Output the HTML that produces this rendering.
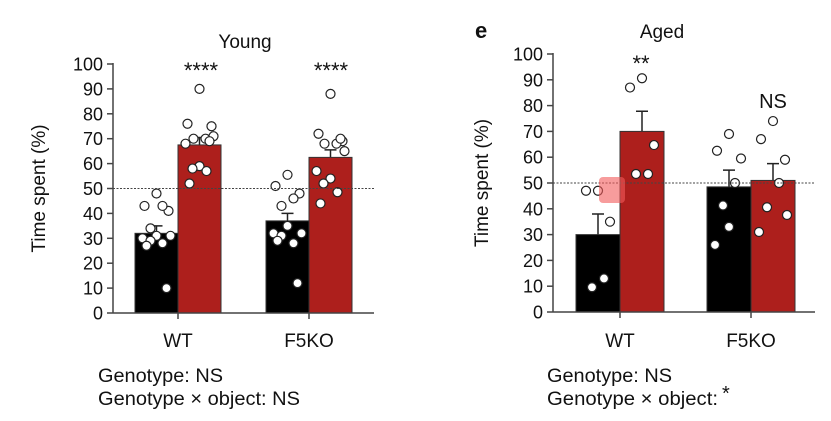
<!DOCTYPE html>
<html><head><meta charset="utf-8"><style>
html,body{margin:0;padding:0;background:#fff;}
svg text{font-family:"Liberation Sans",sans-serif;fill:#111;}
</style></head><body>
<svg id="chart" width="831" height="416" viewBox="0 0 831 416" xmlns="http://www.w3.org/2000/svg">
<text x="475" y="38" font-size="22" font-weight="bold">e</text>
<text x="98" y="382" font-size="19" textLength="125" lengthAdjust="spacingAndGlyphs">Genotype: NS</text>
<text x="98" y="405" font-size="19" textLength="202" lengthAdjust="spacingAndGlyphs">Genotype × object: NS</text>
<text x="547" y="382" font-size="19" textLength="125" lengthAdjust="spacingAndGlyphs">Genotype: NS</text>
<text x="547" y="405" font-size="19" textLength="171" lengthAdjust="spacingAndGlyphs">Genotype × object:</text>
<text x="722" y="400" font-size="20">*</text>
</svg>
<script>
const categories = ["WT", "F5KO"];
const youngMeans = [[32, 67.5], [37, 62.5]];
const youngErr = [[35, 70.5], [40, 65.5]];
const youngPts = [
  [[48,43,41,43,34,31,30,31,29,28,27,10],[90,76,75,70,70,71,68,59,58,57,52,69]],
  [[55.5,51,48,46,43,35,32,32,31,28,29,12],[88,72,69,68,68,65,57,54,52,48.5,44,70]]
];
const youngSig = ["****", "****"];
const agedMeans = [[30, 70], [48.5, 51]];
const agedErr = [[38, 77.8], [55, 57.5]];
const agedPts = [
  [[47,47,35,13,9.6],[90.6,87,64.7,53.5,53.5]],
  [[69,62.5,59.5,50,41.3,33,26],[74,67,59,50,40.6,37.6,31]]
];
const agedSig = ["**", "NS"];
const yTicks = [0,10,20,30,40,50,60,70,80,90,100];
const jitter = [[0,-12,12,6,-6,0,-14,14,-6,6,-10,10],[0,-12,12,6,-6,14,-14,0,-7,7,-10,10]];

const svg = document.getElementById('chart');
const NS = 'http://www.w3.org/2000/svg';
function mk(tag, attrs, parent){ const e=document.createElementNS(NS,tag); for(const k in attrs) e.setAttribute(k,attrs[k]); (parent||svg).appendChild(e); return e; }

function panel(cfg){
  const g = mk('g',{});
  
  
  const y = v => cfg.y0 - v*(cfg.y0-cfg.y100)/100;
  const t = mk('text',{x:cfg.titleX,y:cfg.y100-16,'font-size':19,'text-anchor':'middle'},g);
  t.textContent = cfg.title;
  
  
  const yt = mk('text',{x:0,y:0,'font-size':19,'text-anchor':'middle',transform:`translate(${cfg.yTitleX},${y(50)}) rotate(-90)`},g);
  yt.textContent = 'Time spent (%)';
  
  
  categories.forEach((c,ci)=>{
    const cx = cfg.catX[ci];
    [0,1].forEach(si=>{
      const x0 = si===0 ? cx-cfg.bw : cx;
      const m = cfg.means[ci][si];
      const col = si===0 ? '#000' : '#ad1f1c';
      const ex = x0+cfg.bw/2;
      const eb = mk('path',{d:`M${ex},${y(m)}V${y(cfg.err[ci][si])}M${ex-6},${y(cfg.err[ci][si])}H${ex+6}`,stroke:'#222','stroke-width':1.5,fill:'none'},g);
      
      
      const b = mk('rect',{x:x0,y:y(m),width:cfg.bw,height:y(0)-y(m),fill:col,stroke:'#333','stroke-width':1},g);
      
      
      cfg.pts[ci][si].forEach((v,pi)=>{
        const p = mk('circle',{cx:ex+jitter[si][pi%12]*cfg.jscale,cy:y(v),r:4.5,fill:'#fff',stroke:'#222','stroke-width':1.2},g);
        
        
      });
    });
    const s = mk('text',{x:cfg.sigX[ci],y:cfg.sigY[ci],'font-size':cfg.sig[ci]==='NS'?20:22,'text-anchor':'middle'},g);
    s.textContent = cfg.sig[ci];
    
    
    const xl = mk('text',{x:cx,y:347,'font-size':19,'text-anchor':'middle'},g);
    xl.textContent = c;
    
    
    const xt = mk('line',{x1:cx,x2:cx,y1:y(0),y2:y(0)+6,stroke:'#444','stroke-width':1.5},g);
    
    
  });
  const dl = mk('line',{x1:cfg.ax,x2:cfg.axEnd,y1:y(50),y2:y(50),stroke:'#444','stroke-width':1,'stroke-dasharray':'2,1.5'},g);
  
  
  const ya = mk('line',{x1:cfg.ax,x2:cfg.ax,y1:y(100)-1,y2:y(0),stroke:'#444','stroke-width':1.5},g);
  
  
  const xa = mk('line',{x1:cfg.ax,x2:cfg.axEnd,y1:y(0),y2:y(0),stroke:'#444','stroke-width':1.5},g);
  
  
  yTicks.forEach(v=>{
    const tk = mk('line',{x1:cfg.ax-6,x2:cfg.ax,y1:y(v),y2:y(v),stroke:'#444','stroke-width':1.5},g);
    
    
    const tl = mk('text',{x:cfg.ax-10,y:y(v)+6.5,'font-size':18,'text-anchor':'end'},g);
    tl.textContent = v;
    
    
  });
}

panel({name:'young-chart',title:'Young',titleX:245,yTitleX:45,ax:113,axEnd:374,y0:313,y100:64,
  catX:[178,309],bw:43,means:youngMeans,err:youngErr,pts:youngPts,sig:youngSig,
  sigX:[201,331],sigY:[78,78],jscale:1.0});
panel({name:'aged-chart',title:'Aged',titleX:662,yTitleX:488,ax:553,axEnd:815,y0:312,y100:54,
  catX:[620,751],bw:44,means:agedMeans,err:agedErr,pts:agedPts,sig:agedSig,
  sigX:[641,773],sigY:[71,108],jscale:1.0});

const ov = mk('rect',{x:599,y:177,width:26,height:26,rx:4,fill:'#f25a5a','fill-opacity':0.6});


</script>
</body></html>
